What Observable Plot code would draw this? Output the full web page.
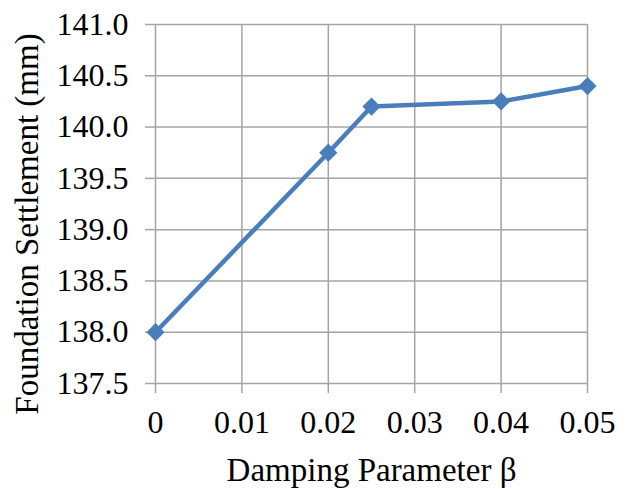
<!DOCTYPE html>
<html>
<head>
<meta charset="utf-8">
<script src="https://cdn.jsdelivr.net/npm/d3@7"></script>
<script src="https://cdn.jsdelivr.net/npm/@observablehq/plot@0.6"></script>
<style>
  html, body { margin: 0; padding: 0; background: #fff; }
  svg, svg text { font-family: "Liberation Serif", "Times New Roman", Tinos, "DejaVu Serif", serif !important; }
</style>
</head>
<body>
<div id="chart"></div>
<script>
const beta = [0, 0.02, 0.025, 0.04, 0.05];
const settlement = [138.0, 139.75, 140.2, 140.25, 140.4];
const xTicks = [0, 0.01, 0.02, 0.03, 0.04, 0.05];
const xTickLabels = ["0", "0.01", "0.02", "0.03", "0.04", "0.05"];
const yTicks = [137.5, 138.0, 138.5, 139.0, 139.5, 140.0, 140.5, 141.0];
const yTickLabels = ["137.5", "138.0", "138.5", "139.0", "139.5", "140.0", "140.5", "141.0"];
const xTitle = "Damping Parameter β";
const yTitle = "Foundation Settlement (mm)";

const data = beta.map((b, i) => ({beta: b, s: settlement[i]}));
const gridColor = "#a4a4a4";
const blue = "#4a7ebb";
const serif = '"Liberation Serif", "Times New Roman", Tinos, "DejaVu Serif", serif';

const chart = Plot.plot({
  width: 630,
  height: 489,
  marginLeft: 155,
  marginRight: 43,
  marginTop: 24,
  marginBottom: 106,
  style: {fontFamily: serif, fontSize: "32px", color: "#000", background: "#fff"},
  x: {domain: [0, 0.05]},
  y: {domain: [137.5, 141]},
  marks: [
    Plot.gridX(xTicks, {stroke: gridColor, strokeOpacity: 1, strokeWidth: 1.5}),
    Plot.gridY(yTicks, {stroke: gridColor, strokeOpacity: 1, strokeWidth: 1.5}),
    Plot.axisX(xTicks, {
      tickSize: 10, tickPadding: 17, stroke: gridColor, strokeWidth: 1.5, strokeOpacity: 1,
      tickFormat: (d) => xTickLabels[xTicks.indexOf(d)], label: null, fill: "#000",
      fontSize: 32
    }),
    Plot.axisY(yTicks, {
      tickSize: 10, tickPadding: 17, stroke: gridColor, strokeWidth: 1.5, strokeOpacity: 1,
      tickFormat: (d) => yTickLabels[yTicks.indexOf(d)], label: null, fill: "#000",
      fontSize: 32
    }),
    Plot.line(data, {x: "beta", y: "s", stroke: blue, strokeWidth: 4.5}),
    Plot.dot(data, {x: "beta", y: "s", symbol: "diamond2", r: 8.2, fill: blue, stroke: "none"}),
    Plot.text([xTitle], {frameAnchor: "bottom", lineAnchor: "bottom", dy: 97, fontSize: 33, fill: "#000"}),
    Plot.text([yTitle], {frameAnchor: "left", textAnchor: "middle", lineAnchor: "bottom", rotate: -90, dx: -118, dy: 20, fontSize: 33, fill: "#000"})
  ]
});
document.getElementById("chart").appendChild(chart);
</script>
</body>
</html>
